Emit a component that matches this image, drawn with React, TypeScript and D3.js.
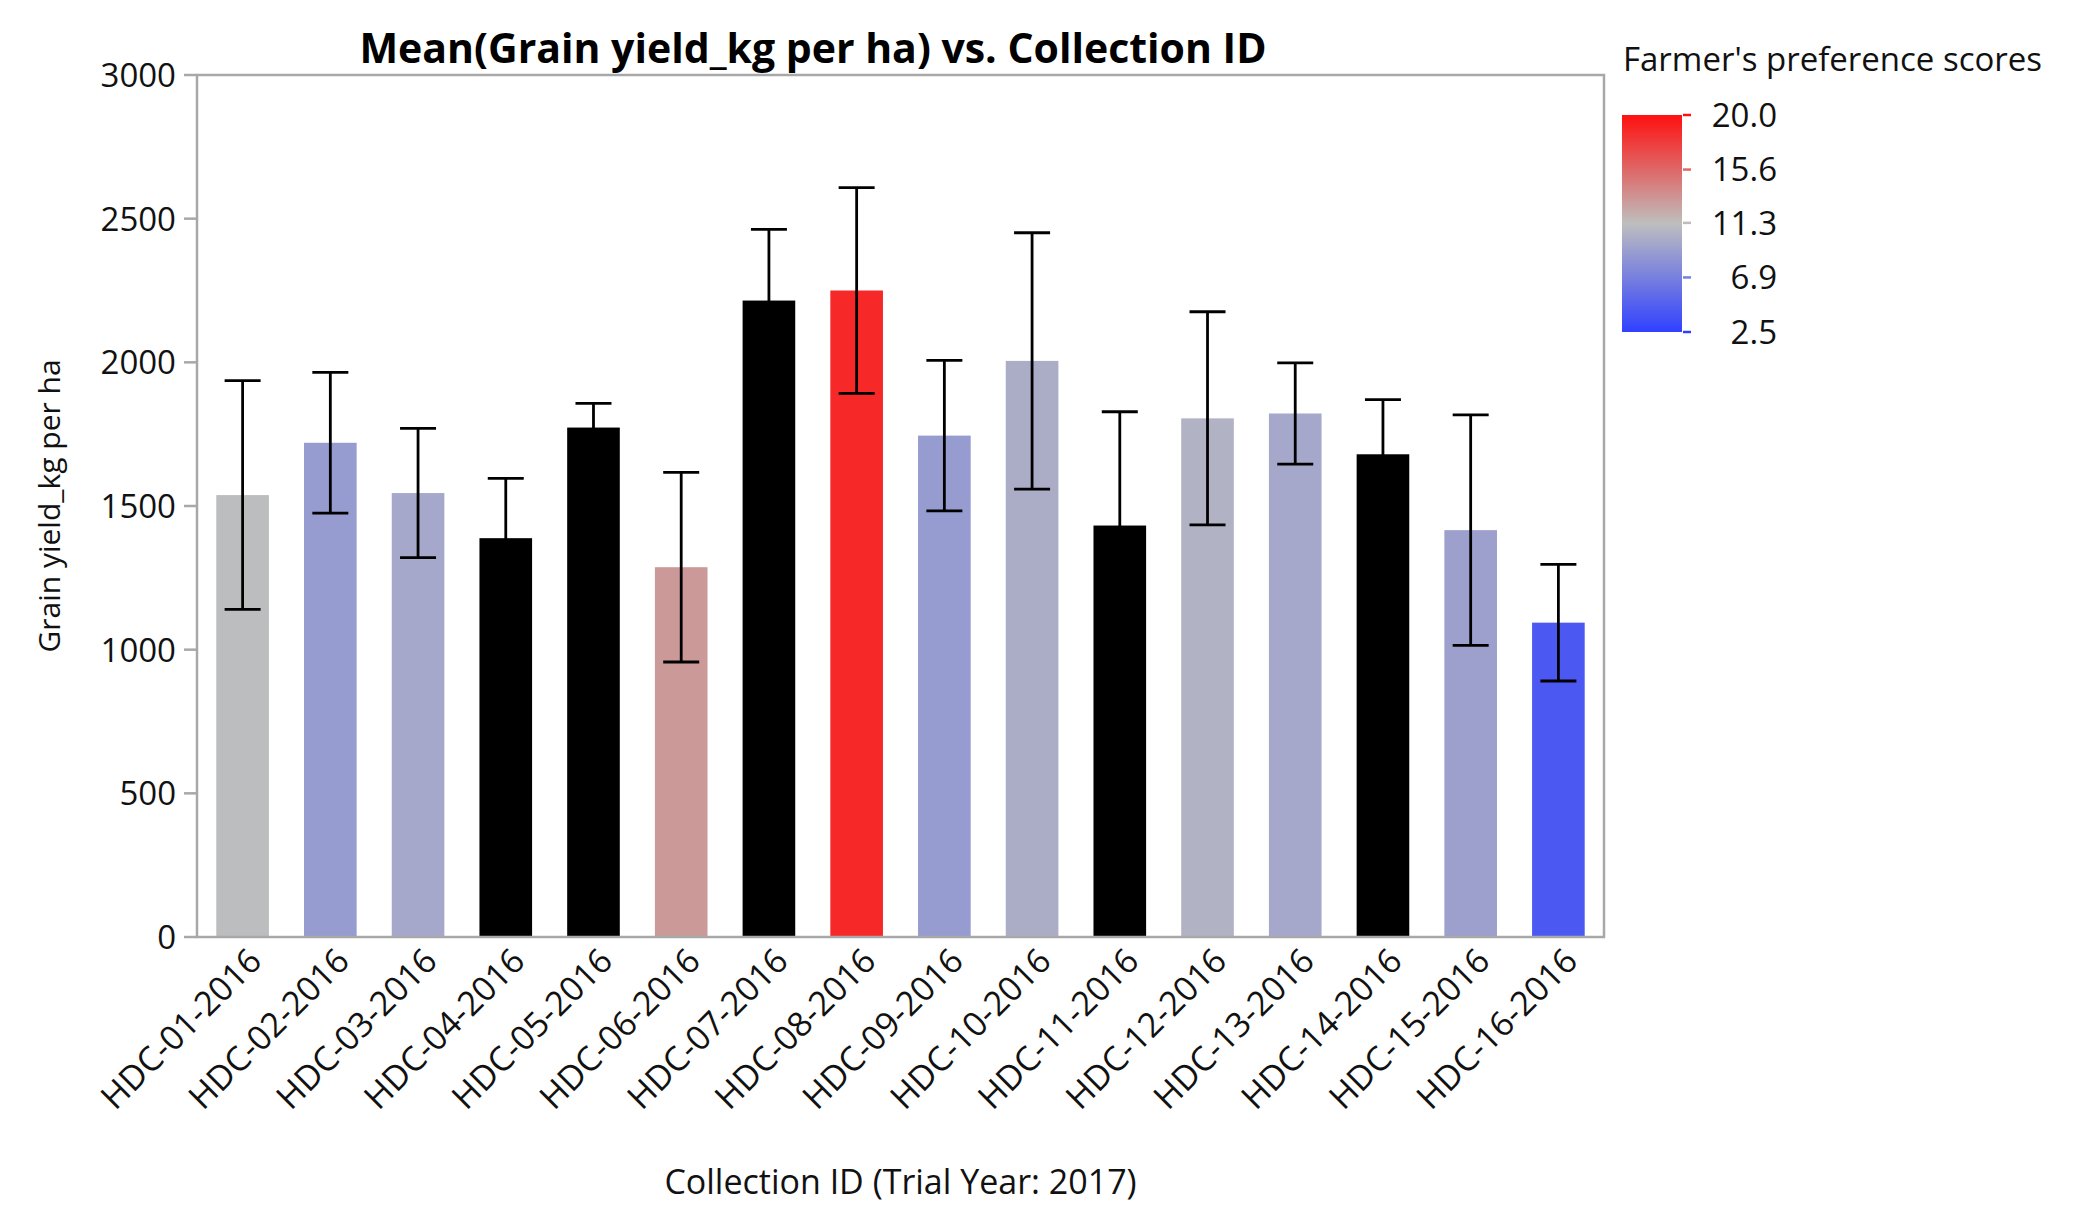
import React from "react";
import * as d3 from "d3";

// Collection IDs on the x axis
const collections = [
  "HDC-01-2016", "HDC-02-2016", "HDC-03-2016", "HDC-04-2016",
  "HDC-05-2016", "HDC-06-2016", "HDC-07-2016", "HDC-08-2016",
  "HDC-09-2016", "HDC-10-2016", "HDC-11-2016", "HDC-12-2016",
  "HDC-13-2016", "HDC-14-2016", "HDC-15-2016", "HDC-16-2016",
];

// Mean grain yield (kg per ha)
const meanYield = [
  1538, 1720, 1545, 1388, 1773, 1287, 2215, 2250,
  1745, 2005, 1432, 1805, 1822, 1680, 1416, 1094,
];

// Half-width of the error bars (kg per ha)
const errHalf = [
  398, 245, 225, 208, 84, 330, 248, 358,
  262, 446, 396, 371, 176, 190, 401, 203,
];

// Farmer's preference score per collection (null = missing, drawn black)
const prefScores: (number | null)[] = [
  11.15, 8.8, 9.7, null, null, 13.1, null, 18.8,
  8.8, 10.1, null, 10.45, 9.7, null, 9.2, 4.2,
];

const yTicks = [0, 500, 1000, 1500, 2000, 2500, 3000];
const legendTicks = [20.0, 15.6, 11.3, 6.9, 2.5];

const FONT = "'Segoe UI', 'Open Sans', sans-serif";

const W = 2088;
const H = 1206;
const plot = { left: 197, right: 1604, top: 75, bottom: 937 };
const legend = { x: 1622, w: 60, top: 115, bottom: 332 };

export default function App() {
  const x = d3
    .scaleBand<string>()
    .domain(collections)
    .range([plot.left, plot.right])
    .paddingInner(0.4)
    .paddingOuter(0.22);

  const y = d3.scaleLinear().domain([0, 3000]).range([plot.bottom, plot.top]);

  const color = d3
    .scaleLinear<string>()
    .domain([2.5, 11.25, 20])
    .range(["#3040ff", "#bebebe", "#ff1010"])
    .interpolate(d3.interpolateRgb)
    .clamp(true);

  const ly = d3
    .scaleLinear()
    .domain([2.5, 20])
    .range([legend.bottom, legend.top]);

  const gradStops = d3.range(0, 1.0001, 0.05).map((t) => ({
    offset: t,
    color: color(20 - t * 17.5),
  }));

  const capHalf = 18;
  const fmt = d3.format(".1f");

  return (
    <div style={{ position: "absolute", left: 0, top: 0 }}>
      <svg width={W} height={H} style={{ display: "block", background: "#fff" }}>
        <defs>
          <linearGradient id="prefGrad" x1="0" y1="0" x2="0" y2="1">
            {gradStops.map((s, i) => (
              <stop key={i} offset={s.offset} stopColor={s.color} />
            ))}
          </linearGradient>
        </defs>

        {/* title */}
        <text
          x={813}
          y={63}
          textAnchor="middle"
          fontFamily={FONT}
          fontWeight="bold"
          fontSize={41}
          fill="#000"
        >
          Mean(Grain yield_kg per ha) vs. Collection ID
        </text>

        {/* bars */}
        {collections.map((c, i) => {
          const s = prefScores[i];
          return (
            <rect
              key={c}
              x={x(c)}
              y={y(meanYield[i])}
              width={x.bandwidth()}
              height={y(0) - y(meanYield[i])}
              fill={s == null ? "#000" : color(s)}
            />
          );
        })}

        {/* error bars */}
        {collections.map((c, i) => {
          const cx = (x(c) as number) + x.bandwidth() / 2;
          const hi = y(meanYield[i] + errHalf[i]);
          const lo = y(meanYield[i] - errHalf[i]);
          return (
            <g key={c} stroke="#000" strokeWidth={2.8}>
              <line x1={cx} x2={cx} y1={hi} y2={lo} />
              <line x1={cx - capHalf} x2={cx + capHalf} y1={hi} y2={hi} />
              <line x1={cx - capHalf} x2={cx + capHalf} y1={lo} y2={lo} />
            </g>
          );
        })}

        {/* frame */}
        <rect
          x={plot.left}
          y={plot.top}
          width={plot.right - plot.left}
          height={plot.bottom - plot.top}
          fill="none"
          stroke="#a8a8a8"
          strokeWidth={2.5}
        />

        {/* y axis ticks */}
        {yTicks.map((t) => (
          <g key={t}>
            <line
              x1={plot.left - 13}
              x2={plot.left}
              y1={y(t)}
              y2={y(t)}
              stroke="#a8a8a8"
              strokeWidth={2.5}
            />
            <text
              x={176}
              y={y(t)}
              dy="0.36em"
              textAnchor="end"
              fontFamily={FONT}
              fontSize={33}
              fill="#111"
            >
              {t}
            </text>
          </g>
        ))}

        {/* x axis labels */}
        {collections.map((c) => {
          const cx = (x(c) as number) + x.bandwidth() / 2;
          return (
            <text
              key={c}
              transform={`translate(${cx + 21},${plot.bottom + 26}) rotate(-45)`}
              textAnchor="end"
              fontFamily={FONT}
              fontSize={34}
              fill="#111"
            >
              {c}
            </text>
          );
        })}

        {/* axis titles */}
        <text
          transform={`translate(60,${(plot.top + plot.bottom) / 2}) rotate(-90)`}
          textAnchor="middle"
          fontFamily={FONT}
          fontSize={30}
          fill="#111"
        >
          Grain yield_kg per ha
        </text>
        <text
          x={(plot.left + plot.right) / 2}
          y={1194}
          textAnchor="middle"
          fontFamily={FONT}
          fontSize={34}
          fill="#111"
        >
          Collection ID (Trial Year: 2017)
        </text>

        {/* colour legend */}
        <text x={1623} y={71} fontFamily={FONT} fontSize={33} fill="#111">
          Farmer's preference scores
        </text>
        <rect
          x={legend.x}
          y={legend.top}
          width={legend.w}
          height={legend.bottom - legend.top}
          fill="url(#prefGrad)"
        />
        {legendTicks.map((t) => (
          <g key={t}>
            <line
              x1={legend.x + legend.w + 1}
              x2={legend.x + legend.w + 9}
              y1={ly(t)}
              y2={ly(t)}
              stroke={color(t)}
              strokeWidth={2.5}
            />
            <text
              x={1777}
              y={ly(t)}
              dy="0.36em"
              textAnchor="end"
              fontFamily={FONT}
              fontSize={33}
              fill="#111"
            >
              {fmt(t)}
            </text>
          </g>
        ))}
      </svg>
    </div>
  );
}
